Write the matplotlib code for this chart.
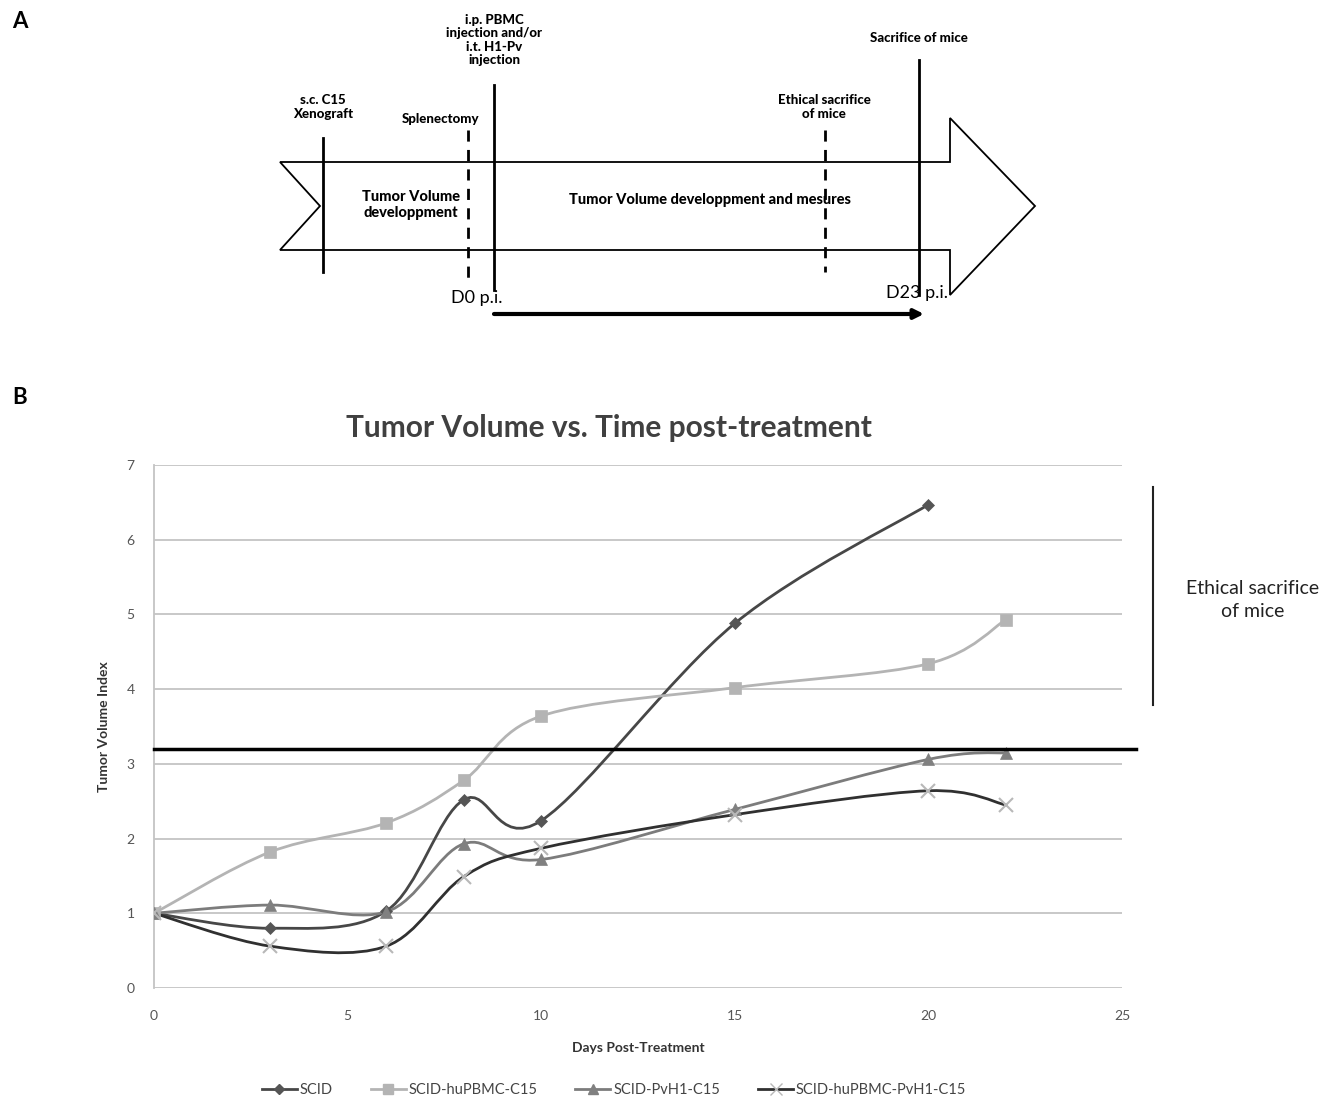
import numpy as np
import matplotlib
matplotlib.use('Agg')
from matplotlib import pyplot as plt
from matplotlib.path import Path
from matplotlib.patches import PathPatch, Polygon
from matplotlib.lines import Line2D

plt.rcParams['font.family'] = ['Lato', 'DejaVu Sans']

# panel B data
days = [0, 3, 6, 8, 10, 15, 20, 22]
scid = [1.0, 0.80, 1.03, 2.52, 2.24, 4.88, 6.47]
hupbmc = [1.0, 1.82, 2.21, 2.78, 3.64, 4.02, 4.34, 4.93]
pvh1 = [1.0, 1.11, 1.02, 1.93, 1.72, 2.39, 3.06, 3.15]
hupbmc_pvh1 = [1.0, 0.56, 0.56, 1.49, 1.87, 2.32, 2.64, 2.45]
threshold = 3.2

series_names = ['SCID', 'SCID-huPBMC-C15', 'SCID-PvH1-C15', 'SCID-huPBMC-PvH1-C15']
series_vals = [scid, hupbmc, pvh1, hupbmc_pvh1]
line_colors = ['#474747', '#b4b4b4', '#7c7c7c', '#303030']
marker_colors = ['#555555', '#b4b4b4', '#808080', '#b8b8b8']
markers = ['D', 's', '^', 'x']
marker_sizes = [6, 9, 9, 10]


def smooth_path(xs, ys):
    '''Excel-like smoothed line: cubic bezier through the points'''
    pts = np.column_stack([xs, ys])
    n = len(pts)
    verts = [pts[0]]
    codes = [Path.MOVETO]
    for i in range(n - 1):
        p0 = pts[max(i - 1, 0)]
        p1 = pts[i]
        p2 = pts[i + 1]
        p3 = pts[min(i + 2, n - 1)]
        c1 = p1 + (p2 - p0) / 6.0
        c2 = p2 - (p3 - p1) / 6.0
        verts += [c1, c2, p2]
        codes += [Path.CURVE4] * 3
    return Path(verts, codes)


W, H = 1335, 1100
fig = plt.figure(figsize=(W / 100, H / 100), dpi=100)

# full-figure axes in pixel coords for panel A and annotations
ax0 = fig.add_axes([0, 0, 1, 1])
ax0.set_xlim(0, W)
ax0.set_ylim(H, 0)
ax0.axis('off')

ax0.text(12, 22, 'A', fontsize=16, fontweight='bold', va='center')
ax0.text(12, 398, 'B', fontsize=16, fontweight='bold', va='center')

# timeline arrow outline
arrow = [(280, 162), (950, 162), (950, 118), (1035, 206), (950, 295),
         (950, 250), (280, 250), (320, 206)]
ax0.add_patch(Polygon(arrow, closed=True, fill=False, edgecolor='black', lw=1.3))

# event markers: x, top, bottom, dashed
events = [(323, 138, 272, False), (468, 130, 285, True), (494, 85, 290, False),
          (825, 130, 272, True), (919, 60, 295, False)]
for x, y0, y1, dashed in events:
    ax0.plot([x, x], [y0, y1], color='black', lw=2,
             ls=(0, (4, 3)) if dashed else '-')

tfont = dict(fontsize=9.5, fontweight='black', ha='center', va='center',
             linespacing=1.15)
ax0.text(323, 107, 's.c. C15\nXenograft', **tfont)
ax0.text(441, 119, 'Splenectomy', **tfont)
ax0.text(494, 40, 'i.p. PBMC\ninjection and/or\ni.t. H1-Pv\ninjection', **tfont)
ax0.text(824, 107, 'Ethical sacrifice\nof mice', **tfont)
ax0.text(919, 38, 'Sacrifice of mice', **tfont)
ax0.text(411, 205, 'Tumor Volume\ndeveloppment', fontsize=10.5, fontweight='black',
         ha='center', va='center', linespacing=1.15)
ax0.text(710, 200, 'Tumor Volume developpment and mesures', fontsize=10.5,
         fontweight='black', ha='center', va='center')
ax0.text(477, 298, 'D0 p.i.', fontsize=13, ha='center', va='center')
ax0.text(917, 293, 'D23 p.i.', fontsize=13, ha='center', va='center')
ax0.annotate('', xy=(924, 314), xytext=(494, 314),
             arrowprops=dict(arrowstyle='-|>', color='black', lw=3,
                             mutation_scale=14, shrinkA=0, shrinkB=0))

# panel B annotations
ax0.plot([1153, 1153], [487, 705], color='#222222', lw=1.5)
ax0.text(1253, 600, 'Ethical sacrifice\nof mice', fontsize=14, ha='center',
         va='center', color='#222222', linespacing=1.4)
ax0.text(609, 428, 'Tumor Volume vs. Time post-treatment', fontsize=21.5,
         fontweight='bold', ha='center', va='center', color='#404040')

# panel B chart
ax = fig.add_axes([154 / W, 1 - 988 / H, (1122 - 154) / W, (988 - 465) / H])
ax.set_xlim(0, 25)
ax.set_ylim(0, 7)
ax.set_xticks(range(0, 26, 5))
ax.set_yticks(range(0, 8))
ax.grid(axis='y', color='#c4c4c4', lw=1.3)
ax.set_axisbelow(True)
for s in ['top', 'right', 'bottom']:
    ax.spines[s].set_visible(False)
ax.spines['left'].set_color('#c4c4c4')
ax.spines['left'].set_linewidth(1.3)
ax.tick_params(length=0, labelsize=10, colors='#555555')
ax.tick_params(axis='x', pad=16)
ax.tick_params(axis='y', pad=14)
ax.set_xlabel('Days Post-Treatment', fontsize=10, fontweight='bold',
              color='#333333', labelpad=14)
ax.set_ylabel('Tumor Volume Index', fontsize=10, fontweight='bold',
              color='#333333', labelpad=12)
ax.patch.set_alpha(0)

handles = []
for name, vals, lc, mc, mk, ms in zip(series_names, series_vals, line_colors,
                                      marker_colors, markers, marker_sizes):
    xs = days[:len(vals)]
    ax.add_patch(PathPatch(smooth_path(xs, vals), fill=False, edgecolor=lc,
                           lw=2, zorder=3))
    ax.plot(xs, vals, ls='none', marker=mk, ms=ms, color=mc,
            markeredgewidth=1.5 if mk == 'x' else 0.5, zorder=4)
    handles.append(Line2D([], [], color=lc, lw=2, marker=mk, ms=ms * 0.8,
                          markerfacecolor=mc, markeredgecolor=mc))

ax.plot([0, 25.35], [threshold, threshold], color='black', lw=2.5,
        clip_on=False, zorder=5)

fig.legend(handles, series_names, loc='center', bbox_to_anchor=(614 / W, 1 - 1090 / H),
           ncol=4, frameon=False, fontsize=10.5, handlelength=2.4,
           handletextpad=0.2, columnspacing=2.6, labelcolor='#444444')

plt.savefig('out.png', dpi=100)
